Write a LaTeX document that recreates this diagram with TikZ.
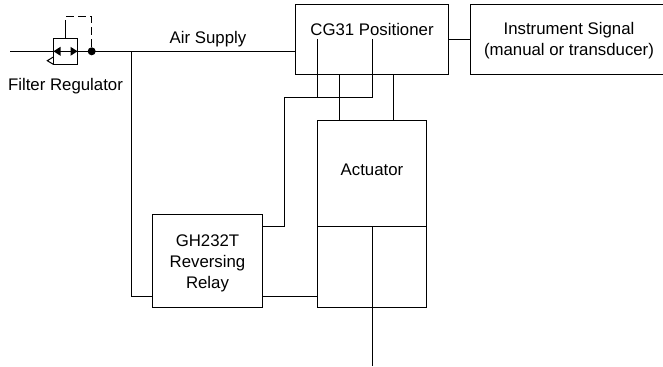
\documentclass[tikz,border=0pt]{standalone}
\usepackage{fontspec}
\setmainfont{Liberation Sans}
\usetikzlibrary{positioning}
\tikzset{
  block/.style={draw,line width=0.75pt,inner sep=0pt,outer sep=0pt,anchor=north west},
  caption/.style={inner sep=0pt,align=center,font=\fontsize{12.6}{15.75}\selectfont},
  wire/.style={line width=0.75pt},
}
\begin{document}
\begin{tikzpicture}[x=0.75pt,y=0.75pt,yscale=-1,xscale=1]
\useasboundingbox (0,0) rectangle (663,367);
% Blocks
\node (positioner) [block,minimum width=114.75pt,minimum height=52.5pt] at (295.5,4.5) {};
\node (positionertext) [caption] at (372,29.5) {CG31 Positioner};
\node (signal) [block,minimum width=148.5pt,minimum height=52.5pt] at (470.3,4.5) {};
\node (signaltext) [caption] at (569,40.5) {Instrument Signal\\(manual or transducer)};
\node (actuator) [block,minimum width=81.4pt,minimum height=78.75pt] at (317.5,121) {};
\node (actuatortext) [caption] at (372,170) {Actuator};
\node (cylinder) [block,minimum width=81.4pt,minimum height=60.75pt] at (317.5,226) {};
\node (relay) [block,minimum width=82.5pt,minimum height=69.4pt] at (152.5,214.5) {};
\node (relaytext) [caption] at (207.5,263) {GH232T\\Reversing\\Relay};
\node (regulator) [block,minimum width=18pt,minimum height=19.5pt] at (53.3,38.3) {};
\node (filtertext) [caption] at (65.5,86.5) {Filter Regulator};
\node (airtext) [caption] at (208,39.5) {Air Supply};
% Free ends
\coordinate (inlet) at (10,51.3);
\coordinate (branch) at (131,51.3);
\coordinate (feed) at (131,296);
\coordinate (rodend) at (372,366);
\coordinate (pilot) at (65.7,16.7);
\coordinate (breakpt) at (65.7,28);
\coordinate (porta) at (317,39);
\coordinate (portb) at (372,39);
\coordinate (bus) at (284.5,98);
\node (tapdot) [circle,fill=black,inner sep=0pt,minimum size=6pt] at (91.7,51.3) {};
% Air supply
\draw [wire] (inlet) -- (inlet -| positioner.west);
\draw [wire] (branch) -- (feed) -- (feed -| relay.west);
\draw [wire] (feed -| relay.east) -- (feed -| cylinder.west);
\draw [wire] (positioner.east |- 0,40) -- (signal.west |- 0,40);
% Positioner ports
\draw [wire] (porta) -- (porta |- bus);
\draw [wire] (portb) -- (portb |- bus) -- (bus) -- (bus |- cylinder.north) -- (relay.east |- cylinder.north);
\draw [wire] (339,74.5) -- (339,121);
\draw [wire] (393.7,74.5) -- (393.7,121);
% Rod
\draw [wire] (rodend |- cylinder.north) -- (rodend);
% Regulator symbol
\draw [wire] (regulator.north -| pilot) -- (breakpt);
\draw [wire,dash pattern=on 6pt off 3pt] (breakpt) -- (pilot) -- (pilot -| tapdot) -- (tapdot);
\fill (53.5,51.3) -- (60.5,46.8) -- (60.5,55.8) -- cycle;
\fill (77.5,51.3) -- (70.5,46.8) -- (70.5,55.8) -- cycle;
\draw [wire] (53.3,57) .. controls (50,58) .. (47.3,60.7) .. controls (50,63) .. (53.3,64.3);
\end{tikzpicture}
\end{document}
